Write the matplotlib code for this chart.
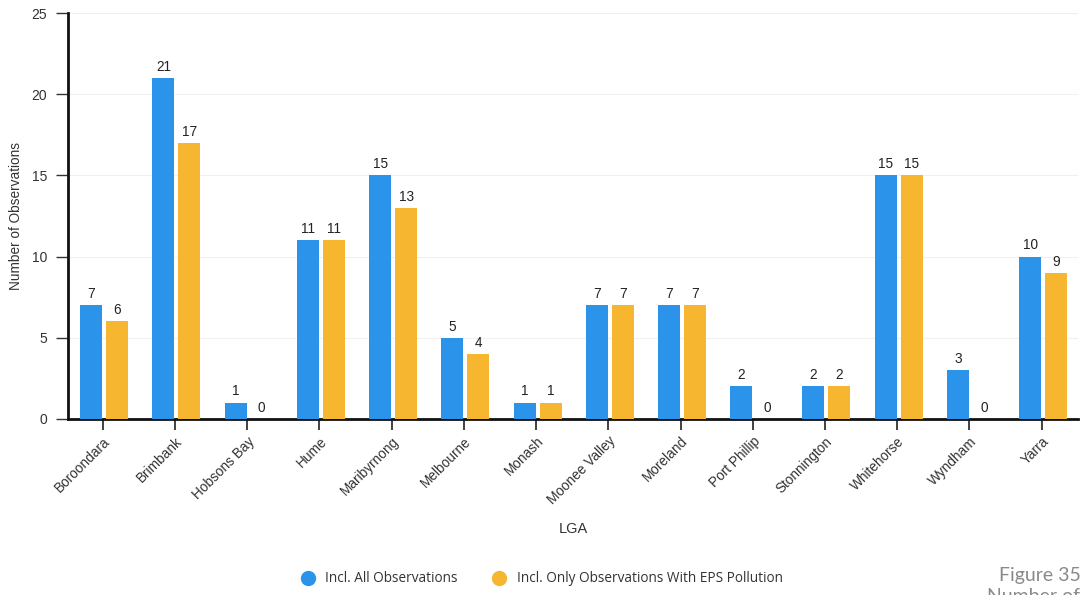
import matplotlib
matplotlib.use("Agg")
import matplotlib.pyplot as plt
import numpy as np
from matplotlib.lines import Line2D

lgas = ["Boroondara", "Brimbank", "Hobsons Bay", "Hume", "Maribyrnong", "Melbourne",
        "Monash", "Moonee Valley", "Moreland", "Port Phillip", "Stonnington",
        "Whitehorse", "Wyndham", "Yarra"]
all_obs = [7, 21, 1, 11, 15, 5, 1, 7, 7, 2, 2, 15, 3, 10]
eps_obs = [6, 17, 0, 11, 13, 4, 1, 7, 7, 0, 2, 15, 0, 9]
series_names = ["Incl. All Observations", "Incl. Only Observations With EPS Pollution"]
y_ticks = [0, 5, 10, 15, 20, 25]

blue = "#2b94ea"
orange = "#f6b62f"

plt.rcParams["font.family"] = ["Liberation Sans", "DejaVu Sans"]

fig = plt.figure(figsize=(10.81, 5.95), dpi=100)
ax = fig.add_axes([0.063, 0.296, 0.934, 0.682])

x = np.arange(len(lgas))
w = 0.305
b1 = ax.bar(x - 0.16, all_obs, width=w, color=blue, zorder=3)
b2 = ax.bar(x + 0.2, eps_obs, width=w, color=orange, zorder=3)

for rects, vals in ((b1, all_obs), (b2, eps_obs)):
    for r, v in zip(rects, vals):
        ax.annotate(str(v), (r.get_x() + r.get_width() / 2, v), xytext=(0, 3),
                    textcoords="offset points", ha="center", va="bottom",
                    fontsize=9.8, color="#222222", zorder=4)

ax.set_xlim(-0.48, 13.5)
ax.set_ylim(0, 25)
ax.set_yticks(y_ticks)
ax.set_xticks(x)
ax.set_xticklabels(lgas, rotation=45, ha="right", rotation_mode="anchor", fontsize=9.8,
                   color="#333333")
ax.tick_params(axis="y", labelsize=10, length=9, width=1, color="#333333", pad=6,
               labelcolor="#333333")
ax.tick_params(axis="x", length=8, width=1.3, color="#333333", pad=3)
ax.yaxis.grid(True, color="#f0f0f0", linewidth=0.8, zorder=0)
ax.set_axisbelow(True)

for s in ("top", "right"):
    ax.spines[s].set_visible(False)
for s in ("left", "bottom"):
    ax.spines[s].set_linewidth(2)
    ax.spines[s].set_color("#111111")

ax.set_ylabel("Number of Observations", fontsize=9.8, color="#333333")
ax.yaxis.set_label_coords(-0.045, 0.5)
ax.set_xlabel("LGA", fontsize=10.5, color="#333333")
ax.xaxis.set_label_coords(0.5, -0.255)

handles = [Line2D([], [], marker="o", linestyle="", markersize=10, color=blue),
           Line2D([], [], marker="o", linestyle="", markersize=10, color=orange)]
fig.legend(handles, series_names, loc="center", bbox_to_anchor=(0.498, 0.027),
           ncol=2, frameon=False, handletextpad=0.3, columnspacing=2.0,
           prop={"family": "Open Sans", "size": 9.8}, labelcolor="#333333")

fig.text(0.9995, 0.018, "Figure 35", ha="right", va="bottom", fontsize=14,
         color="#8a8a8a", family="Lato")
fig.text(0.9995, 0.012, "Number of", ha="right", va="top", fontsize=14,
         color="#8a8a8a", family="Lato")

fig.savefig("out.png", dpi=100)
